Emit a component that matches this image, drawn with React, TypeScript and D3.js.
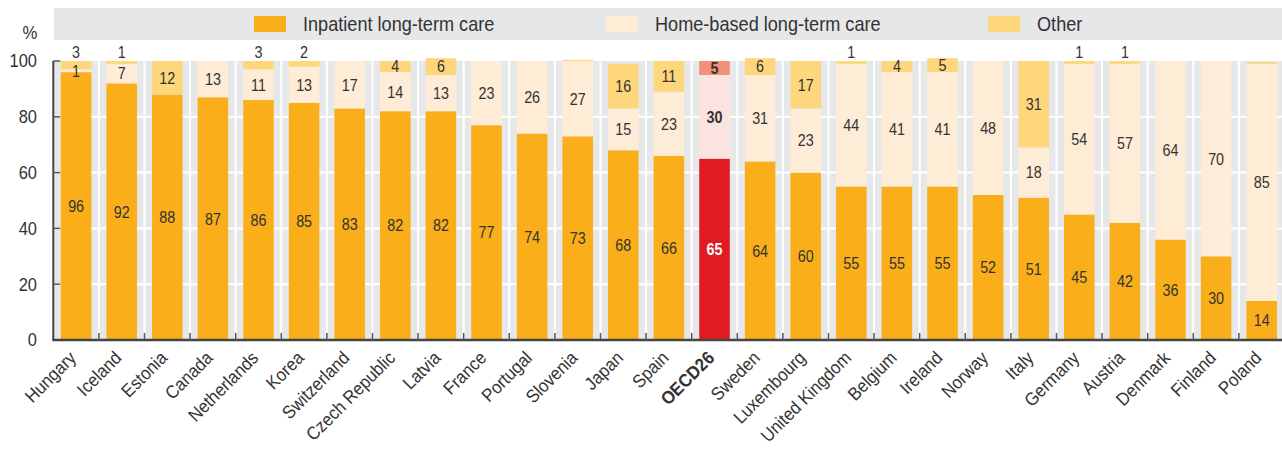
import React from "react";
import * as d3 from "d3";

const countries = ["Hungary","Iceland","Estonia","Canada","Netherlands","Korea","Switzerland","Czech Republic","Latvia","France","Portugal","Slovenia","Japan","Spain","OECD26","Sweden","Luxembourg","United Kingdom","Belgium","Ireland","Norway","Italy","Germany","Austria","Denmark","Finland","Poland"];
const inpatient = [96,92,88,87,86,85,83,82,82,77,74,73,68,66,65,64,60,55,55,55,52,51,45,42,36,30,14];
const homeBased = [1,7,0,13,11,13,17,14,13,23,26,27,15,23,30,31,23,44,41,41,48,18,54,57,64,70,85];
const other = [3,1,12,0,3,2,0,4,6,0,0,0.4,16,11,5,6,17,1,4,5,0,31,1,1,0,0,0.6];
const yTicks = [0,20,40,60,80,100];
const seriesNames = ["Inpatient long-term care","Home-based long-term care","Other"];

const W = 1282, H = 454;
const FONT = "'Liberation Sans', Arial, sans-serif";
const colors = { inp: "#f9ae1a", home: "#feecd6", other: "#fed67c" };
const oecdColors = { inp: "#e01b22", home: "#fbe4e0", other: "#f4907a" };
const GRAY = "#e6e7e8";
const TXT = "#333333";

export default function App() {
  const left = 53.3, right = 1284.5, top = 61, bottom = 340;
  const x = d3.scaleBand<string>().domain(countries).range([left, right]).paddingInner(0.33).paddingOuter(0.165);
  const y = d3.scaleLinear().domain([0, 100]).range([bottom, top]);
  const step = x.step();
  const bw = x.bandwidth();

  const rows = countries.map((c, i) => ({ c, inp: inpatient[i], home: homeBased[i], other: other[i] }));
  const stack = d3.stack<any>().keys(["inp", "home", "other"])(rows as any);

  const fmt = (v: number) => String(Math.round(v));
  const legend = [
    { sx: 254, tx: 303, c: colors.inp },
    { sx: 606, tx: 655, c: colors.home },
    { sx: 988, tx: 1037, c: colors.other },
  ];

  return (
    <div style={{ position: "absolute", left: 0, top: 0 }}>
      <svg width={W} height={H} style={{ display: "block", fontFamily: FONT }}>
        {/* legend band */}
        <rect x={54} y={8} width={W - 54} height={32} fill={GRAY} />
        {legend.map((l, i) => (
          <g key={i}>
            <rect x={l.sx} y={16} width={32} height={16} fill={l.c} />
            <text transform={`translate(${l.tx},31) scale(0.93,1)`} fontSize={19.5} fill={TXT}>{seriesNames[i]}</text>
          </g>
        ))}
        {/* plot background */}
        <rect x={left} y={top} width={W - left} height={bottom - top} fill={GRAY} />
        {countries.map((c, i) => (
          <line key={"vs" + i} x1={left + (i + 1) * step} x2={left + (i + 1) * step} y1={top} y2={bottom} stroke="#fff" strokeWidth={2} />
        ))}
        {yTicks.filter(t => t > 0 && t < 100).map(t => (
          <line key={"g" + t} x1={left} x2={W} y1={y(t)} y2={y(t)} stroke="#fff" strokeWidth={2} />
        ))}
        {/* bars */}
        {stack.map((s, si) => s.map((d: any, i: number) => {
          const isO = countries[i] === "OECD26";
          const key = (["inp", "home", "other"] as const)[si];
          const fill = isO ? oecdColors[key] : colors[key];
          const h = y(d[0]) - y(d[1]);
          if (h <= 0) return null;
          return <rect key={si + "-" + i} x={x(countries[i])} y={y(d[1])} width={bw} height={h} fill={fill} />;
        }))}
        {/* labels */}
        {stack.map((s, si) => s.map((d: any, i: number) => {
          const v = d[1] - d[0];
          if (v < 1) return null;
          const isO = countries[i] === "OECD26";
          const cx = (x(countries[i]) as number) + bw / 2;
          let cy = (y(d[0]) + y(d[1])) / 2;
          if (si === 2 && v < 4) cy = 52;
          return (
            <text key={"l" + si + "-" + i} transform={`translate(${cx},${cy}) scale(0.88,1)`} dy="0.36em" textAnchor="middle" fontSize={16.3}
              fontWeight={isO ? "bold" : "normal"} fill={isO && si === 0 ? "#fff" : TXT}>{fmt(v)}</text>
          );
        }))}
        {/* axes */}
        <line x1={left} x2={left} y1={top} y2={bottom} stroke="#444" strokeWidth={2} />
        {yTicks.map(t => (
          <g key={"yt" + t}>
            <line x1={left} x2={left + 7} y1={y(t)} y2={y(t)} stroke="#555" strokeWidth={1.5} />
            <text transform={`translate(37,${y(t)}) scale(0.93,1)`} dy="0.36em" textAnchor="end" fontSize={17.7} fill={TXT}>{t}</text>
          </g>
        ))}
        <text transform="translate(30,39) scale(0.93,1)" textAnchor="middle" fontSize={18} fill={TXT}>%</text>
        <line x1={left - 1} x2={W} y1={bottom} y2={bottom} stroke="#444" strokeWidth={2.5} />
        {countries.map((c, i) => (
          <line key={"xt" + i} x1={left + (i + 1) * step} x2={left + (i + 1) * step} y1={bottom} y2={bottom - 7} stroke="#555" strokeWidth={1.5} />
        ))}
        {countries.map((c, i) => {
          const cx = (x(c) as number) + bw / 2;
          return (
            <text key={"xl" + i} transform={`translate(${cx + 1},359) rotate(-45) scale(0.92,1)`} textAnchor="end"
              fontSize={18.2} fontWeight={c === "OECD26" ? "bold" : "normal"} fill={TXT}>{c}</text>
          );
        })}
      </svg>
    </div>
  );
}
